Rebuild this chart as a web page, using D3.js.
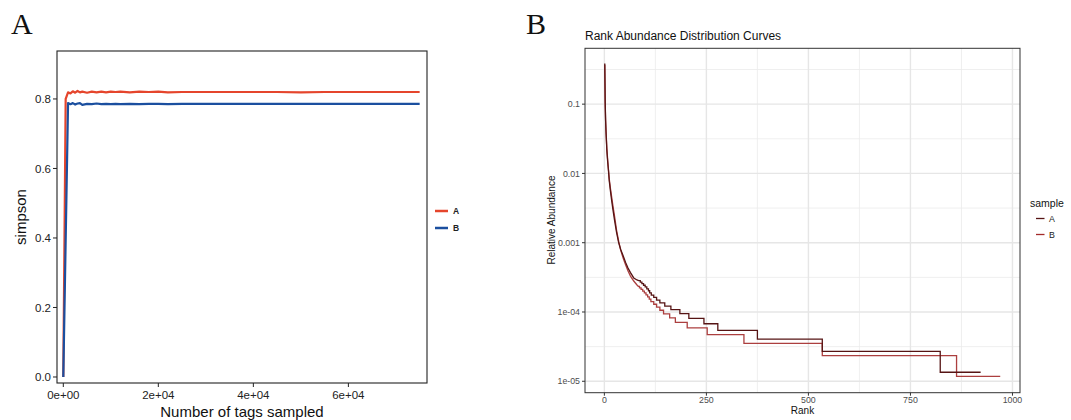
<!DOCTYPE html>
<html><head><meta charset="utf-8">
<script src="https://cdn.jsdelivr.net/npm/d3@7"></script>
<style>body{margin:0;background:#fff}svg{display:block}text{font-family:"Liberation Sans",Arial,Helvetica,sans-serif}</style>
</head><body><svg id="c" width="1071" height="420"></svg>
<script>
// ---------- Panel A data ----------
const tagsSampled = [0,500,1000,1500,2000,2500,3000,3500,4000,5000,6000,7000,8000,9000,10000,11000,12000,14000,16000,18000,20000,22000,25000,30000,35000,40000,45000,50000,55000,60000,65000,70000,75000];
const simpsonA = [0,0.800,0.819,0.816,0.822,0.818,0.823,0.819,0.821,0.818,0.821,0.819,0.821,0.819,0.821,0.820,0.821,0.819,0.821,0.820,0.821,0.819,0.820,0.820,0.820,0.820,0.820,0.819,0.820,0.820,0.820,0.820,0.820];
const simpsonB = [0,0.395,0.788,0.785,0.788,0.784,0.787,0.788,0.783,0.786,0.785,0.787,0.785,0.786,0.785,0.786,0.785,0.786,0.785,0.786,0.786,0.785,0.786,0.786,0.786,0.786,0.786,0.786,0.786,0.786,0.786,0.786,0.786];
const aYTicks = [0,0.2,0.4,0.6,0.8];
const aYLabels = ["0.0","0.2","0.4","0.6","0.8"];
const aXTicks = [0,20000,40000,60000];
const aXLabels = ["0e+00","2e+04","4e+04","6e+04"];
const seriesNames = ["A","B"];

// ---------- Panel B data ----------
const headRankA = [1,2,3,4,5,6,8,10,12,15,18,21,25,30,35,40,46,52,58,64,72,80,84];
const headAbundA = [0.385,0.11,0.06,0.04,0.030,0.022,0.015,0.011,0.0078,0.0055,0.0040,0.0030,0.0021,0.0014,0.0010,0.00080,0.00065,0.00052,0.00043,0.00037,0.00031,0.00029,0.000284];
const stepRankA = [88,92,96,100,104,108,111,115,121,128,136,148,163,185,207,244,278,375,534,823];
const stepAbundA = [2.703e-4,2.568e-4,2.432e-4,2.297e-4,2.162e-4,2.027e-4,1.892e-4,1.757e-4,1.622e-4,1.486e-4,1.351e-4,1.216e-4,1.081e-4,9.46e-5,8.11e-5,6.76e-5,5.41e-5,4.05e-5,2.70e-5,1.35e-5];
const lastRankA = 922;

const headRankB = [1,2,3,4,5,6,8,10,12,15,18,21,25,30,35,40,46,52,58,64,72,80,83];
const headAbundB = [0.37,0.10,0.058,0.042,0.031,0.023,0.016,0.0115,0.0083,0.0060,0.0045,0.0034,0.0024,0.0015,0.00105,0.00078,0.00060,0.00048,0.00039,0.00033,0.00028,0.000245,0.000235];
const stepRankB = [86,90,94,98,102,106,110,114,121,128,136,145,160,174,203,252,342,534,863];
const stepAbundB = [2.235e-4,2.118e-4,2.0e-4,1.882e-4,1.765e-4,1.647e-4,1.529e-4,1.412e-4,1.294e-4,1.176e-4,1.059e-4,9.41e-5,8.24e-5,7.06e-5,5.88e-5,4.71e-5,3.53e-5,2.35e-5,1.18e-5];
const lastRankB = 970;

const bXTicks = [0,250,500,750,1000];
const bXMinor = [125,375,625,875];
const bYTicks = [0.1,0.01,0.001,1e-4,1e-5];
const bYLabels = ["0.1","0.01","0.001","1e-04","1e-05"];
const bYMinor = [Math.pow(10,-0.5),Math.pow(10,-1.5),Math.pow(10,-2.5),Math.pow(10,-3.5),Math.pow(10,-4.5)];

const svg = d3.select("#c");

// ================= Panel A =================
(function(){
  const L=57,T=51,R=427,B=383;
  const x = d3.scaleLinear().domain([-1326,76547]).range([L,R]);
  const y = d3.scaleLinear().domain([-0.0173,0.938]).range([B,T]);
  const g = svg.append("g");
  g.append("text").attr("x",11).attr("y",33.5)
    .style("font-family","'Liberation Serif','Times New Roman',serif").attr("font-size",30).attr("fill","#111").text("A");
  const line = d3.line().x(d=>x(d[0])).y(d=>y(d[1]));
  const cols = ["#e5452c","#1b4f9f"];
  [simpsonA,simpsonB].forEach((s,i)=>{
    g.append("path").attr("d",line(tagsSampled.map((t,j)=>[t,s[j]]))).attr("fill","none")
      .attr("stroke",cols[i]).attr("stroke-width",2.2).attr("stroke-linejoin","round");
  });
  g.append("rect").attr("x",L).attr("y",T).attr("width",R-L).attr("height",B-T).attr("fill","none").attr("stroke","#222").attr("stroke-width",1.1);
  aYTicks.forEach((v,i)=>{
    g.append("line").attr("x1",L-4).attr("x2",L).attr("y1",y(v)).attr("y2",y(v)).attr("stroke","#222").attr("stroke-width",1);
    g.append("text").attr("x",L-6).attr("y",y(v)).attr("dy","0.36em").attr("text-anchor","end").attr("font-size",11.5).attr("fill","#222").text(aYLabels[i]);
  });
  aXTicks.forEach((v,i)=>{
    g.append("line").attr("x1",x(v)).attr("x2",x(v)).attr("y1",B).attr("y2",B+4).attr("stroke","#222").attr("stroke-width",1);
    g.append("text").attr("x",x(v)).attr("y",399).attr("text-anchor","middle").attr("font-size",11.5).attr("fill","#222").text(aXLabels[i]);
  });
  g.append("text").attr("transform","translate(26,217) rotate(-90)").attr("text-anchor","middle").attr("font-size",15).attr("fill","#111").text("simpson");
  g.append("text").attr("x",242).attr("y",417).attr("text-anchor","middle").attr("font-size",15).attr("fill","#111").text("Number of tags sampled");
  seriesNames.forEach((n,i)=>{
    const yy = 211 + i*17;
    g.append("line").attr("x1",435).attr("x2",448).attr("y1",yy).attr("y2",yy).attr("stroke",cols[i]).attr("stroke-width",2.5);
    g.append("text").attr("x",453).attr("y",yy).attr("dy","0.35em").attr("font-size",8.5).attr("font-weight","bold").attr("fill","#222").text(n);
  });
})();

// ================= Panel B =================
(function(){
  const L=585,T=48.3,R=1020,B=392.7;
  const x = d3.scaleLinear().domain([-47.45,1018.45]).range([L,R]);
  const y = d3.scaleLog().domain([Math.pow(10,-5.165),Math.pow(10,-0.194)]).range([B,T]);
  const g = svg.append("g");
  g.append("text").attr("x",526).attr("y",33.5).style("font-family","'Liberation Serif','Times New Roman',serif")
    .attr("font-size",30).attr("fill","#111").text("B");
  g.append("text").attr("x",L).attr("y",40).attr("font-size",12).attr("fill","#111").text("Rank Abundance Distribution Curves");
  g.append("rect").attr("x",L).attr("y",T).attr("width",R-L).attr("height",B-T).attr("fill","#fff");
  bYMinor.forEach(v=>g.append("line").attr("x1",L).attr("x2",R).attr("y1",y(v)).attr("y2",y(v)).attr("stroke","#ebebeb").attr("stroke-width",0.8));
  bXMinor.forEach(v=>g.append("line").attr("y1",T).attr("y2",B).attr("x1",x(v)).attr("x2",x(v)).attr("stroke","#ebebeb").attr("stroke-width",0.8));
  bYTicks.forEach(v=>g.append("line").attr("x1",L).attr("x2",R).attr("y1",y(v)).attr("y2",y(v)).attr("stroke","#e6e6e6").attr("stroke-width",1.4));
  bXTicks.forEach(v=>g.append("line").attr("y1",T).attr("y2",B).attr("x1",x(v)).attr("x2",x(v)).attr("stroke","#e6e6e6").attr("stroke-width",1.4));
  function pts(hr,ha,sr,sa,last){
    const p = hr.map((r,i)=>[r,ha[i]]);
    let prev = ha[ha.length-1];
    sr.forEach((r,i)=>{p.push([r,prev]);p.push([r,sa[i]]);prev=sa[i];});
    p.push([last,prev]);
    return p;
  }
  const line = d3.line().x(d=>x(d[0])).y(d=>y(d[1]));
  const bcols = ["#561414","#a32a2a"];
  g.append("path").attr("d",line(pts(headRankB,headAbundB,stepRankB,stepAbundB,lastRankB))).attr("fill","none").attr("stroke",bcols[1]).attr("stroke-width",1.3).attr("stroke-opacity",0.9);
  g.append("path").attr("d",line(pts(headRankA,headAbundA,stepRankA,stepAbundA,lastRankA))).attr("fill","none").attr("stroke",bcols[0]).attr("stroke-width",1.3);
  g.append("rect").attr("x",L).attr("y",T).attr("width",R-L).attr("height",B-T).attr("fill","none").attr("stroke","#333").attr("stroke-width",1);
  bYTicks.forEach((v,i)=>{
    g.append("line").attr("x1",L-3).attr("x2",L).attr("y1",y(v)).attr("y2",y(v)).attr("stroke","#333");
    g.append("text").attr("x",L-5).attr("y",y(v)).attr("dy","0.35em").attr("text-anchor","end").attr("font-size",8.8).attr("fill","#4d4d4d").text(bYLabels[i]);
  });
  bXTicks.forEach(v=>{
    g.append("line").attr("x1",x(v)).attr("x2",x(v)).attr("y1",B).attr("y2",B+3).attr("stroke","#333");
    g.append("text").attr("x",x(v)).attr("y",403).attr("text-anchor","middle").attr("font-size",8.8).attr("fill","#4d4d4d").text(v);
  });
  g.append("text").attr("transform","translate(555,220) rotate(-90)").attr("text-anchor","middle").attr("font-size",10).attr("fill","#111").text("Relative Abundance");
  g.append("text").attr("x",(L+R)/2).attr("y",414).attr("text-anchor","middle").attr("font-size",10).attr("fill","#111").text("Rank");
  g.append("text").attr("x",1030).attr("y",206.5).attr("font-size",10.5).attr("fill","#111").text("sample");
  seriesNames.forEach((n,i)=>{
    const yy = 218.5 + i*16;
    g.append("line").attr("x1",1036).attr("x2",1044.5).attr("y1",yy).attr("y2",yy).attr("stroke",bcols[i]).attr("stroke-width",1.3);
    g.append("text").attr("x",1049).attr("y",yy).attr("dy","0.35em").attr("font-size",8.8).attr("fill","#222").text(n);
  });
})();
</script></body></html>
